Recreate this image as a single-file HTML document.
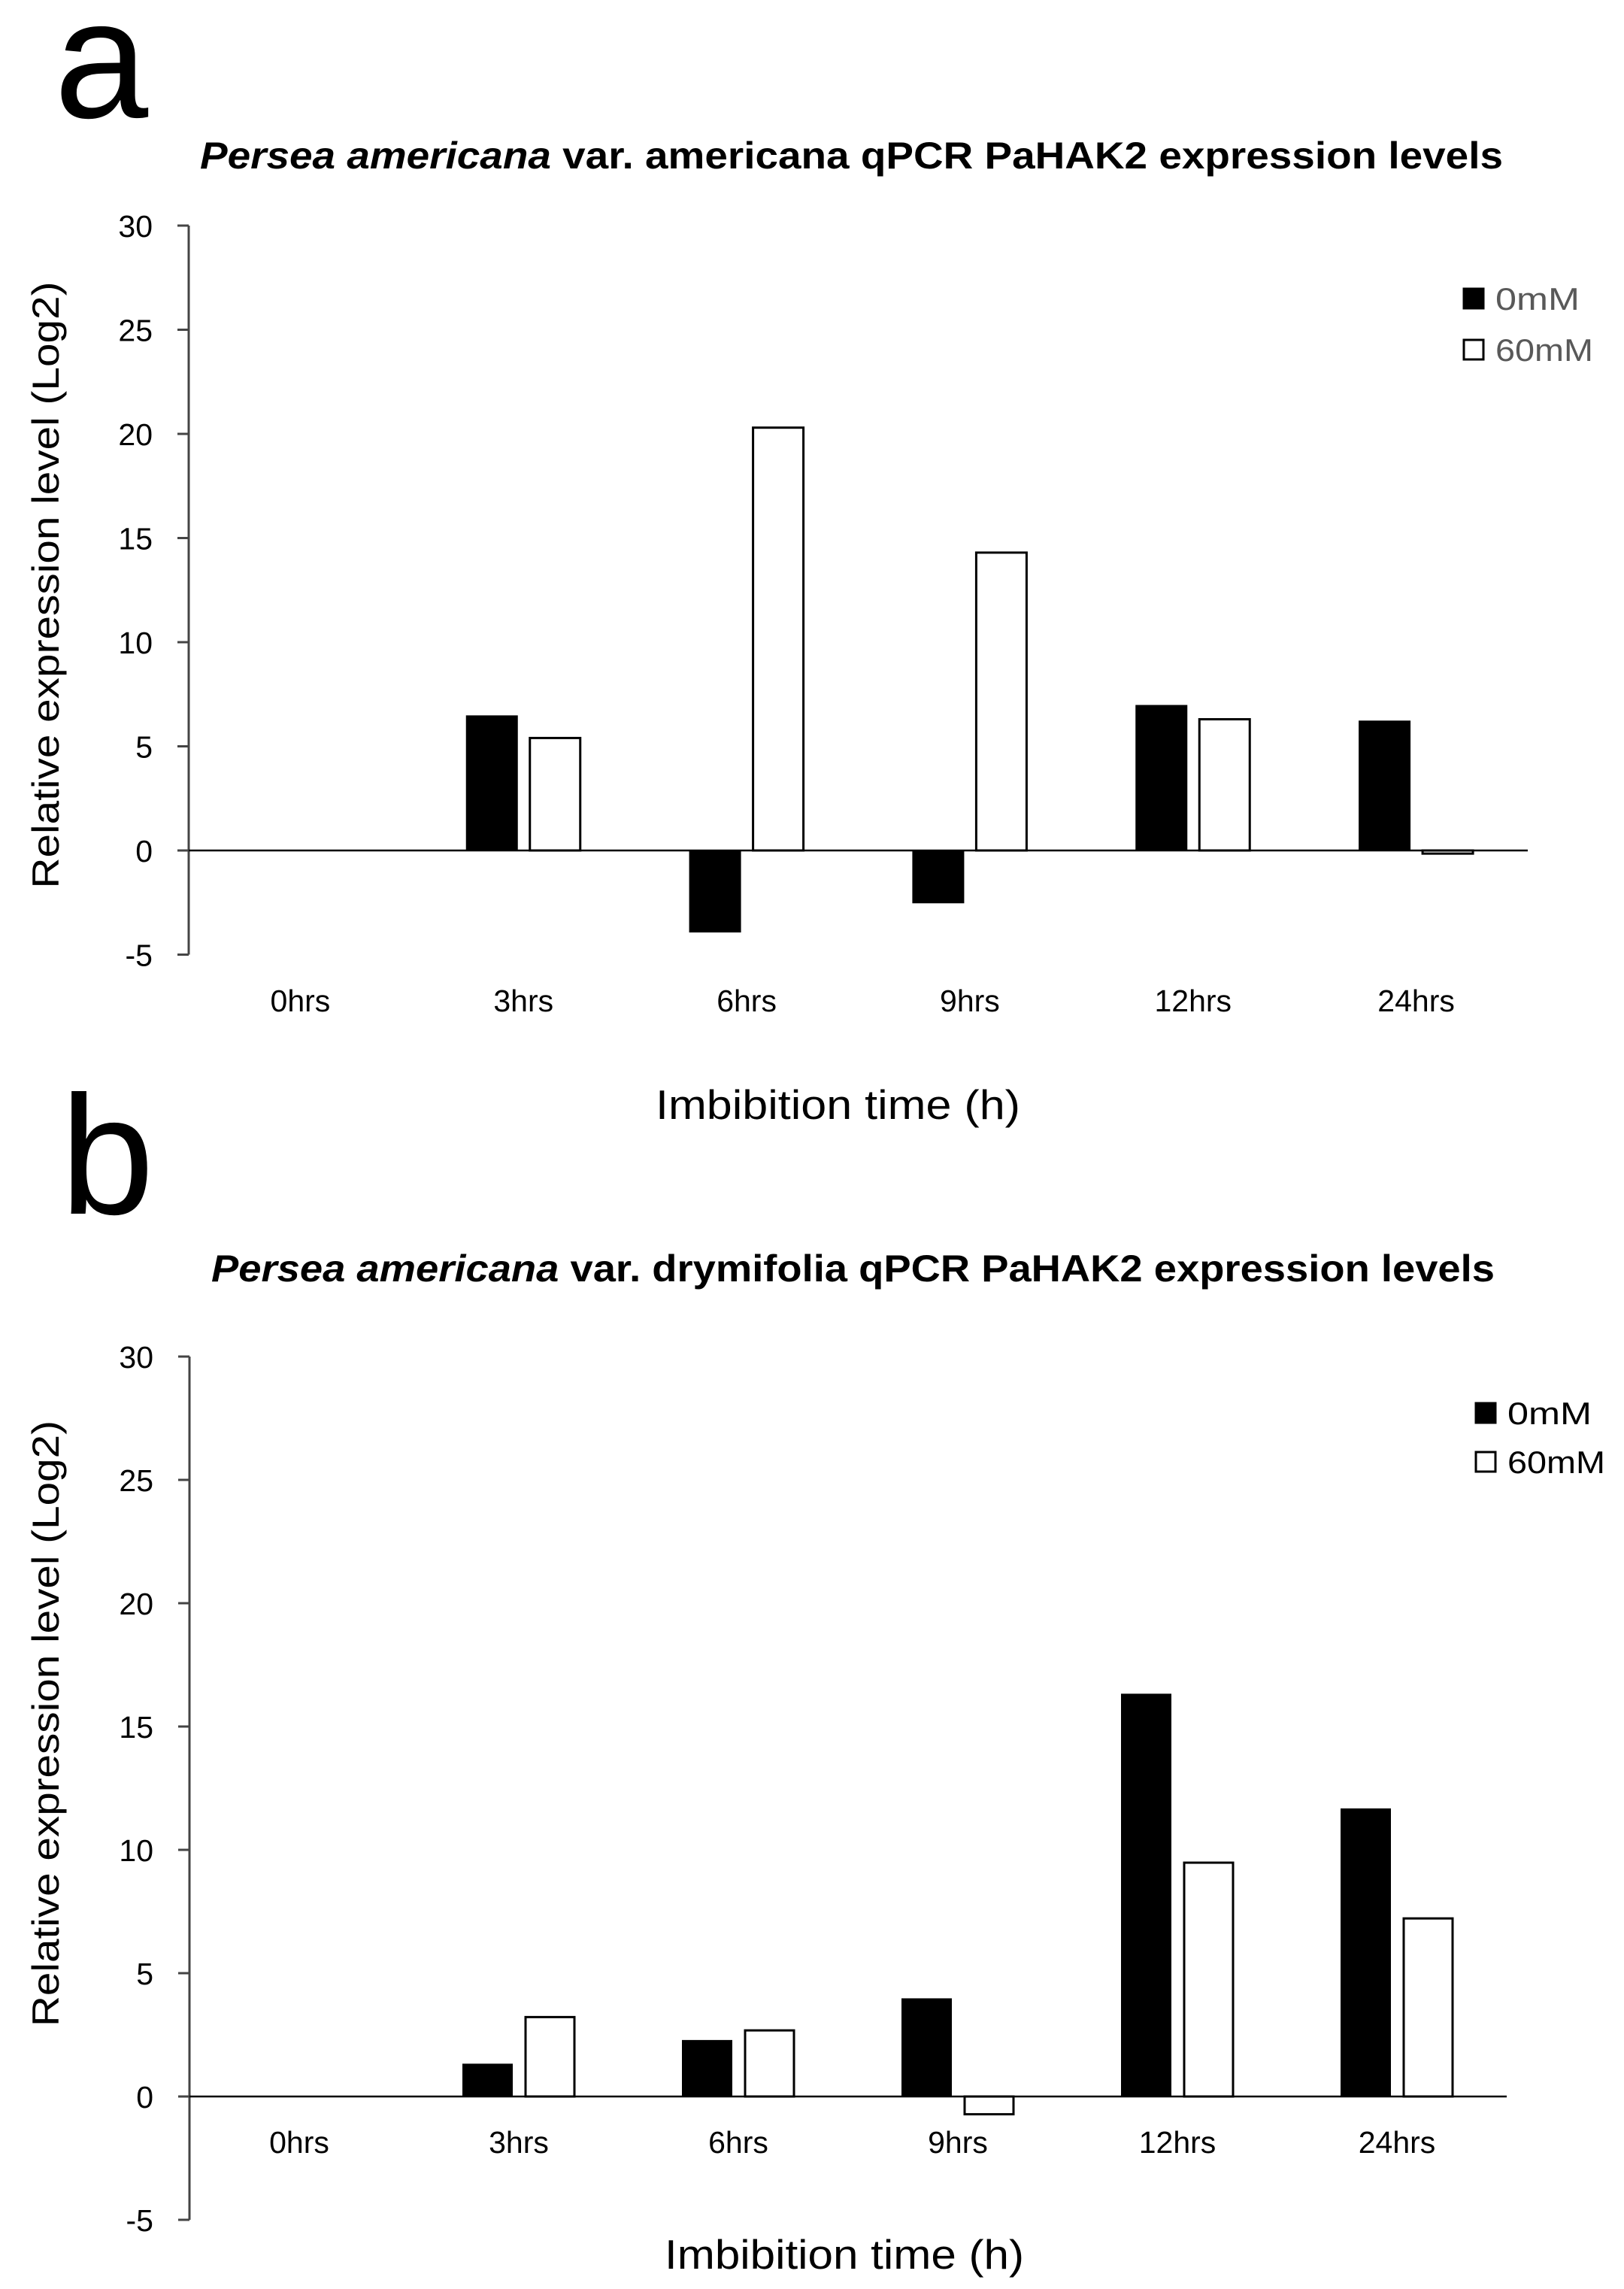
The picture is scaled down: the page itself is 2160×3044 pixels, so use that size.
<!DOCTYPE html>
<html><head><meta charset="utf-8">
<style>
html,body{margin:0;padding:0;background:#fff;}
svg{display:block;}
text{font-family:"Liberation Sans Narrow","Liberation Sans",sans-serif;}
</style></head>
<body>
<svg id="fig" width="2160" height="3044" viewBox="0 0 2160 3044" xmlns="http://www.w3.org/2000/svg">
<rect width="2160" height="3044" fill="#fff"/>
<g id="panelA"></g>
<g id="panelB"></g>
</svg>
<script>
const categories = ["0hrs","3hrs","6hrs","9hrs","12hrs","24hrs"];
const yTicks = [30,25,20,15,10,5,0,-5];
const seriesNames = ["0mM","60mM"];
const aValues0mM = [0, 6.45, -3.9, -2.5, 6.95, 6.2];
const aValues60mM = [0, 5.4, 20.3, 14.3, 6.3, -0.15];
const bValues0mM = [0, 1.3, 2.26, 3.95, 16.3, 11.65];
const bValues60mM = [0, 3.22, 2.68, -0.72, 9.48, 7.22];

const NS = "http://www.w3.org/2000/svg";
function mk(parent, tag, attrs, txt){
  const e = document.createElementNS(NS, tag);
  for (const k in attrs) e.setAttribute(k, attrs[k]);
  if (txt !== undefined) e.textContent = txt;
  parent.appendChild(e);
  return e;
}

function drawPanel(g, cfg){
  const yMin=-5, yMax=30;
  const y = v => cfg.y0 - (v) * (cfg.y0 - cfg.yTop) / yMax;
  const band = (cfg.xRight - cfg.xLeft) / categories.length;
  const xc = i => cfg.xLeft + band * (i + 0.5);

  // panel letter
  let t = mk(g,'text',{x:cfg.letterX,y:cfg.letterY,'font-size':225,'font-family':'Liberation Sans, sans-serif',fill:'#000'},cfg.letter);
  
  

  // title
  const title = mk(g,'text',{x:cfg.titleX,y:cfg.titleY,'font-size':50,'font-weight':'bold',textLength:cfg.titleW,lengthAdjust:'spacingAndGlyphs'});
  
  
  mk(title,'tspan',{'font-style':'italic'},'Persea americana');
  mk(title,'tspan',{}, cfg.titleRest);

  // y axis
  let ax = mk(g,'line',{x1:cfg.xLeft,y1:y(yMax),x2:cfg.xLeft,y2:y(yMin),stroke:'#444','stroke-width':3});
  
  
  yTicks.forEach(v=>{
    let tk = mk(g,'line',{x1:cfg.xLeft-15,y1:y(v),x2:cfg.xLeft,y2:y(v),stroke:'#444','stroke-width':3});
    
    
    let lb = mk(g,'text',{x:cfg.xLeft-48,y:y(v)+15,'font-size':41,'text-anchor':'end',fill:'#000'},String(v));
    
    
  });
  // y title
  let yt = mk(g,'text',{x:0,y:0,'font-size':50,'font-family':'Liberation Sans, sans-serif','text-anchor':'middle',textLength:cfg.yTitleW,lengthAdjust:'spacingAndGlyphs',transform:`translate(${cfg.yTitleX},${cfg.yTitleCY}) rotate(-90)`},'Relative expression level (Log2)');
  
  

  // bars
  const bw = cfg.barW, gap = cfg.gap;
  categories.forEach((c,i)=>{
    const v0 = cfg.v0[i], v1 = cfg.v1[i];
    if (v0 !== 0){
      const r = mk(g,'rect',{x:xc(i)-gap/2-bw,y:Math.min(y(v0),y(0)),width:bw,height:Math.abs(y(v0)-y(0)),fill:'#000',stroke:'#000','stroke-width':2});
      
      
    }
    if (v1 !== 0){
      const r = mk(g,'rect',{x:xc(i)+gap/2,y:Math.min(y(v1),y(0)),width:bw,height:Math.max(Math.abs(y(v1)-y(0)),2),fill:'#fff',stroke:'#000','stroke-width':3});
      
      
    }
    const lb = mk(g,'text',{x:xc(i),y:cfg.xLabelY,'font-size':41,'text-anchor':'middle',fill:'#000'},c);
    
    
  });
  // x axis line at zero
  let xa = mk(g,'line',{x1:cfg.xLeft,y1:y(0),x2:cfg.xRight,y2:y(0),stroke:'#000','stroke-width':2.5});
  
  

  // x title
  let xt = mk(g,'text',{x:cfg.xTitleX,y:cfg.xTitleY,'font-size':55,textLength:cfg.xTitleW,lengthAdjust:'spacingAndGlyphs'},'Imbibition time (h)');
  
  

  // legend
  const lg = mk(g,'g',{});
  
  
  seriesNames.forEach((s,i)=>{
    const yy = cfg.legY + i*cfg.legStep;
    const sw = mk(lg,'rect',{x:cfg.legX,y:yy,width:26,height:26,fill:i===0?'#000':'#fff',stroke:'#000','stroke-width':3});
    
    
    const tx = mk(lg,'text',{x:cfg.legX+42,y:yy+28,'font-size':42,fill:cfg.legColor,textLength:i===0?112:130,lengthAdjust:'spacingAndGlyphs'},s);
    
    
  });
}

drawPanel(document.getElementById('panelA'),{
  letter:'a', letterX:72, letterY:156,
  titleX:266, titleY:224, titleW:1733, titleRest:' var. americana qPCR PaHAK2 expression levels',
  xLeft:251, xRight:2032, y0:1131, yTop:300,
  barW:67, gap:17, v0:aValues0mM, v1:aValues60mM,
  xLabelY:1345, xTitleX:872, xTitleY:1488, xTitleW:485,
  yTitleX:78, yTitleCY:778, yTitleW:807,
  legX:1947, legY:384, legStep:68, legColor:'#595959'
});
drawPanel(document.getElementById('panelB'),{
  letter:'b', letterX:80, letterY:1614,
  titleX:281, titleY:1704, titleW:1707, titleRest:' var. drymifolia qPCR PaHAK2 expression levels',
  xLeft:252, xRight:2004, y0:2788, yTop:1804,
  barW:65, gap:18, v0:bValues0mM, v1:bValues60mM,
  xLabelY:2863, xTitleX:884, xTitleY:3017, xTitleW:478,
  yTitleX:78, yTitleCY:2292, yTitleW:806,
  legX:1963, legY:1866, legStep:65, legColor:'#000'
});
</script>
</body></html>
